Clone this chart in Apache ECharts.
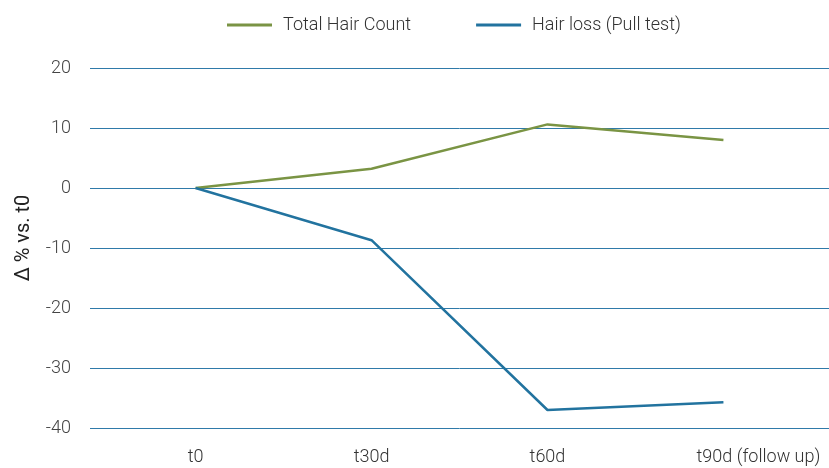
<!DOCTYPE html>
<html>
<head>
<meta charset="utf-8">
<title>Hair count vs. hair loss</title>
<script src="https://cdn.jsdelivr.net/npm/echarts@6/dist/echarts.min.js"></script>
<style>
  html, body { margin: 0; padding: 0; background: #fff; }
  #chart { width: 829px; height: 468px; }
</style>
</head>
<body>
<div id="chart"></div>
<script>
// time points
var categories = ['t0', 't30d', 't60d', 't90d (follow up)'];
// delta % vs t0
var totalHairCount = [0, 3.2, 10.6, 8.0];
var hairLoss = [0, -8.7, -37.0, -35.7];
var yTicks = [-40, -30, -20, -10, 0, 10, 20];

var toPairs = function (arr) {
  var out = [];
  for (var i = 0; i < arr.length; i++) {
    out.push([i, arr[i]]);
  }
  return out;
};

var chart = echarts.init(document.getElementById('chart'));

var option = {
  animation: false,
  textStyle: { fontFamily: 'Roboto' },
  legend: {
    top: 11,
    left: 222,
    itemWidth: 45,
    itemHeight: 3,
    itemGap: 65,
    icon: 'rect',
    textStyle: { fontSize: 18, color: '#333', fontWeight: 300, padding: [0, 0, 0, 6] },
    data: ['Total Hair Count', 'Hair loss (Pull test)']
  },
  grid: { left: 90, right: 0, top: 68, bottom: 40 },
  xAxis: {
    type: 'value',
    min: -0.6,
    max: 3.6,
    axisLine: { show: false },
    axisTick: { show: false },
    splitLine: { show: false },
    axisLabel: {
      customValues: [0, 1, 2, 3],
      margin: 20,
      fontSize: 18,
      color: '#333',
      fontWeight: 300,
      formatter: function (v) {
        var i = Math.round(v);
        if (i === categories.length - 1) return '{r|' + categories[i] + '}';
        return categories[i];
      },
      rich: {
        r: { fontSize: 18, color: '#333', fontWeight: 300, padding: [0, 0, 0, 70] }
      }
    }
  },
  yAxis: {
    type: 'value',
    min: yTicks[0],
    max: yTicks[yTicks.length - 1],
    interval: 10,
    name: 'Δ % vs. t0',
    nameLocation: 'middle',
    nameGap: 56,
    nameTextStyle: { fontSize: 20, color: '#222', padding: [0, 0, 0, 20] },
    axisLine: { show: false },
    axisTick: { show: false },
    axisLabel: { margin: 19, fontSize: 18, color: '#444', fontWeight: 300 },
    splitLine: { lineStyle: { color: '#2f7aa9', width: 1 } }
  },
  series: [
    {
      name: 'Total Hair Count',
      type: 'line',
      data: toPairs(totalHairCount),
      symbol: 'none',
      color: '#7a9444',
      lineStyle: { width: 2.5, color: '#7a9444' }
    },
    {
      name: 'Hair loss (Pull test)',
      type: 'line',
      data: toPairs(hairLoss),
      symbol: 'none',
      color: '#22739f',
      lineStyle: { width: 2.5, color: '#22739f' }
    }
  ]
};

chart.setOption(option);
</script>
</body>
</html>
